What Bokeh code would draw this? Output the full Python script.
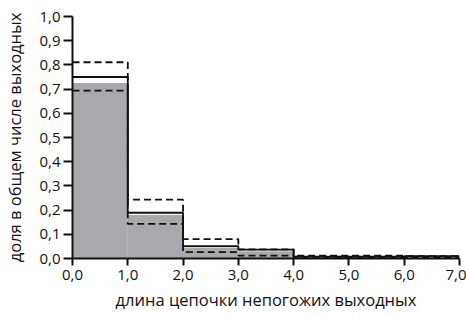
from bokeh.plotting import figure
from bokeh.models import FixedTicker, Range1d
from bokeh.embed import file_html
from bokeh.resources import INLINE

bin_left = [0, 1, 2, 3, 4, 5, 6]
bin_right = [1, 2, 3, 4, 5, 6, 7]
gray_values = [0.725, 0.18, 0.045, 0.03, 0.006, 0.006, 0.006]
solid_values = [0.75, 0.189, 0.051, 0.037, 0.008, 0.008, 0.01]
dash_upper = [0.811, 0.243, 0.08, 0.038, 0.012, 0.012, 0.01]
dash_lower = [0.694, 0.143, 0.026, 0.012, 0.004, 0.004, 0.004]

y_ticks = [0.0, 0.1, 0.2, 0.3, 0.4, 0.5, 0.6, 0.7, 0.8, 0.9, 1.0]
y_labels = ["0,0", "0,1", "0,2", "0,3", "0,4", "0,5", "0,6", "0,7", "0,8", "0,9", "1,0"]
x_ticks = [0, 1, 2, 3, 4, 5, 6, 7]
x_labels = ["0,0", "1,0", "2,0", "3,0", "4,0", "5,0", "6,0", "7,0"]

x_title = "длина цепочки непогожих выходных"
y_title = "доля в общем числе выходных"

FONT = "Open Sans"
INK = "#111111"

p = figure(width=466, height=316, output_backend="svg", toolbar_location=None,
           x_range=Range1d(0, 7), y_range=Range1d(0, 1.0),
           min_border_left=70, min_border_right=7, min_border_top=16, min_border_bottom=58)
p.grid.visible = False
p.outline_line_color = None
p.background_fill_color = "white"
p.border_fill_color = "white"

p.quad(left=bin_left, right=bin_right, bottom=0, top=gray_values,
       fill_color="#a7a9ac", line_color=None)

step_x = bin_left + [bin_right[-1]]
p.step(step_x, solid_values + [solid_values[-1]], mode="after",
       line_color=INK, line_width=1.8)
p.step(step_x, dash_upper + [dash_upper[-1]], mode="after",
       line_color=INK, line_width=1.8, line_dash="7 4")
p.step(step_x, dash_lower + [dash_lower[-1]], mode="after",
       line_color=INK, line_width=1.8, line_dash="7 4")

for ax in (p.xaxis[0], p.yaxis[0]):
    ax.axis_line_color = INK
    ax.axis_line_width = 2
    ax.major_tick_line_color = INK
    ax.major_tick_line_width = 2
    ax.minor_tick_line_color = None
    ax.major_tick_in = 0
    ax.major_label_text_font = FONT
    ax.major_label_text_font_size = "15px"
    ax.major_label_text_color = INK
    ax.axis_label_text_font = FONT
    ax.axis_label_text_font_size = "16.5px"
    ax.axis_label_text_font_style = "normal"
    ax.axis_label_text_color = INK

p.yaxis.ticker = FixedTicker(ticks=y_ticks)
p.yaxis.major_label_overrides = {t: l for t, l in zip(y_ticks, y_labels)}
p.yaxis.major_tick_out = 9
p.yaxis.major_label_standoff = 3
p.yaxis.axis_label = y_title
p.yaxis.axis_label_standoff = 10

p.xaxis.ticker = FixedTicker(ticks=x_ticks)
p.xaxis.major_label_overrides = {t: l for t, l in zip(x_ticks, x_labels)}
p.xaxis.major_tick_out = 7
p.xaxis.major_label_standoff = 4
p.xaxis.axis_label = x_title
p.xaxis.axis_label_standoff = 5

open("out.html", "w").write(file_html(p, INLINE))
